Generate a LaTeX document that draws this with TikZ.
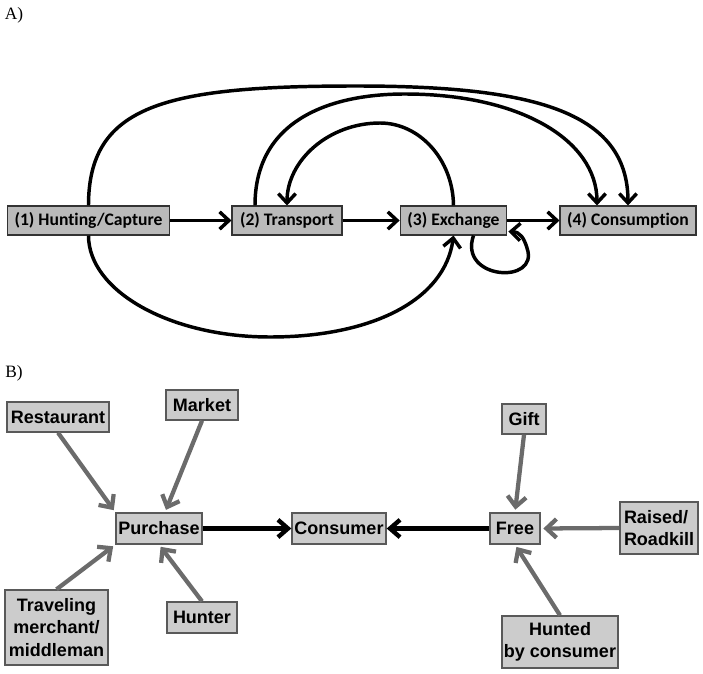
\documentclass[tikz,border=0pt]{standalone}
\usepackage{fontspec}
\setmainfont{Liberation Serif}
\newfontfamily\calibri[Ligatures=NoCommon]{Carlito}
\newfontfamily\arial{Liberation Sans}
\usetikzlibrary{arrows.meta, calc}

\begin{document}
\begin{tikzpicture}[
    % GLOBAL CFG (one unit = one pixel of the reference)
    x=0.75pt, y=-0.75pt,
    % Styles
    stage/.style={% For the boxes of panel A
        rectangle,
        draw=black!80,
        line width=0.8pt,
        fill=black!27,
        minimum height=21.75pt,
        inner sep=0pt,
        font=\calibri\bfseries\fontsize{13.2}{15}\selectfont,
    },
    source/.style={% For the boxes of panel B
        rectangle,
        draw=black!65,
        line width=1pt,
        fill=black!20,
        inner sep=0pt,
        align=center,
        font=\arial\bfseries\fontsize{13.5}{17}\selectfont,
    },
    panel/.style={% For the panel letters
        font=\fontsize{13}{15}\selectfont,
    },
    ArrowA/.style={% Black arrows of panel A
        -{Straight Barb[length=7pt,width=13pt]},
        line width=2.6pt,
    },
    ArrowK/.style={% Black arrows of panel B
        -{Straight Barb[length=7.5pt,width=13pt]},
        line width=3.3pt,
    },
    ArrowG/.style={% Grey arrows of panel B
        -{Straight Barb[length=7.5pt,width=14pt]},
        line width=3.2pt,
        draw=black!58,
        shorten >=2pt,
    },
    ]

    \useasboundingbox (0,0) rectangle (703,674);

    % Panel letters
    \node [panel] (lblA) at (14,15) {A)};
    \node [panel] (lblB) at (14,373) {B)};

    % Draw stages of panel A
    \node [stage, minimum width=122pt] (hunt) at (88.5,220.5) {(1) Hunting/Capture};
    \node [stage, minimum width=82.5pt] (trans) at (287,220.5) {(2) Transport};
    \node [stage, minimum width=80pt] (exch) at (453.5,220.5) {(3) Exchange};
    \node [stage, minimum width=102pt] (cons) at (628,220.5) {(4) Consumption};

    % Connect stages
    \draw [ArrowA] (hunt) -- (trans);
    \draw [ArrowA] (trans) -- (exch);
    \draw [ArrowA] (exch) -- (cons);

    % Arcs above
    \draw [ArrowA] (hunt.north) .. controls (88.5,105) and (165,86) .. (356,86)
        .. controls (530,86) and (628,110) .. (cons.north);
    \draw [ArrowA] ($(trans.north)+(-32,0)$) .. controls (255,120) and (330,94) .. (405,94)
        .. controls (520,94) and (597,140) .. ($(cons.north)+(-31,0)$);
    \draw [ArrowA] (exch.north) .. controls (453,160) and (420,123) .. (380,123)
        .. controls (329,123) and (287,160) .. (trans.north);

    % Arcs below
    \draw [ArrowA] (hunt.south) .. controls (88.5,291) and (170,337) .. (270,337)
        .. controls (372,337) and (445,300) .. (exch.south);
    \draw [ArrowA] ($(exch.south)+(20,0)$) .. controls (458,280) and (540,285) .. (527,248)
        .. controls (524,238) and (520,232) .. ($(exch.south east)+(1,-4)$);

    % Draw sources of panel B
    \node [source, minimum width=76.5pt, minimum height=22.5pt] (rest) at (58,417) {Restaurant};
    \node [source, minimum width=54pt, minimum height=22.5pt] (market) at (202,405) {Market};
    \node [source, minimum width=64.5pt, minimum height=23.25pt] (purch) at (159,528.5) {Purchase};
    \node [source, minimum width=70.5pt, minimum height=23.25pt] (consu) at (339,528.5) {Consumer};
    \node [source, minimum width=37.5pt, minimum height=23.25pt] (free) at (515,528.5) {Free};
    \node [source, minimum width=33pt, minimum height=22.5pt] (gift) at (524,419) {Gift};
    \node [source, minimum width=58.5pt, minimum height=39pt, align=left] (raised) at (659,528) {Raised/\\Roadkill};
    \node [source, minimum width=77.25pt, minimum height=56.25pt] (travel) at (56.5,627.5) {Traveling\\merchant/\\middleman};
    \node [source, minimum width=52.5pt, minimum height=23.25pt] (hunter) at (202,617.5) {Hunter};
    \node [source, minimum width=87pt, minimum height=39pt] (hunted) at (560,642) {Hunted\\by consumer};

    % Connect all
    \draw [ArrowK] (purch) -- (consu);
    \draw [ArrowK] (free) -- (consu);

    \draw [ArrowG] (rest.south) -- (purch.north west);
    \draw [ArrowG] (market.south) -- ($(purch.north)+(6,0)$);
    \draw [ArrowG] (travel.north) -- (purch.south west);
    \draw [ArrowG] (hunter.north) -- (purch.south);
    \draw [ArrowG] (gift.south) -- (free.north);
    \draw [ArrowG] (raised.west) -- (free.east);
    \draw [ArrowG] (hunted.north) -- (free.south);

\end{tikzpicture}
\end{document}
